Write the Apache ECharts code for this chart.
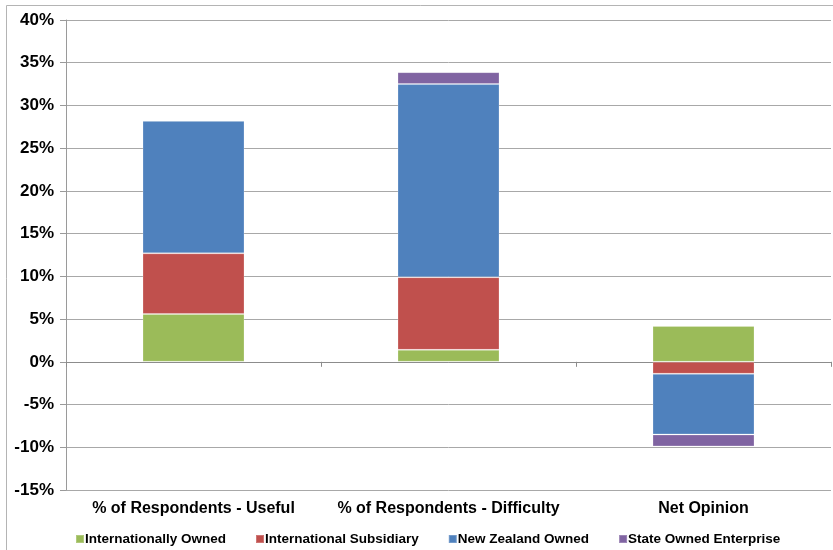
<!DOCTYPE html>
<html>
<head>
<meta charset="utf-8">
<script src="https://cdn.jsdelivr.net/npm/echarts@6/dist/echarts.min.js"></script>
<style>
  html, body { margin: 0; padding: 0; background: #fff; }
  #chart { width: 833px; height: 550px; }
</style>
</head>
<body>
<div id="chart"></div>
<script>
// Categories and stacked percentages per ownership type
const categories = ['% of Respondents - Useful', '% of Respondents - Difficulty', 'Net Opinion'];
const internationallyOwned = [5.6, 1.4, 4.2];
const internationalSubsidiary = [7.1, 8.5, -1.4];
const newZealandOwned = [15.5, 22.6, -7.1];
const stateOwnedEnterprise = [0, 1.4, -1.4];
const seriesNames = ['Internationally Owned', 'International Subsidiary', 'New Zealand Owned', 'State Owned Enterprise'];
const yTicks = { min: -15, max: 40, interval: 5 };

const colors = ['#9BBB59', '#C0504D', '#4F81BD', '#8064A2'];
const font = '"Liberation Sans", Arial, sans-serif';

const chart = echarts.init(document.getElementById('chart'), null, { renderer: 'canvas' });

const values = [internationallyOwned, internationalSubsidiary, newZealandOwned, stateOwnedEnterprise];

chart.setOption({
  animation: false,
  backgroundColor: '#ffffff',
  color: colors,
  graphic: [{
    type: 'rect',
    shape: { x: 6.5, y: 5.5, width: 900, height: 700 },
    style: { fill: 'none', stroke: '#b4b4b4', lineWidth: 1 },
    silent: true,
    z: -1
  }],
  grid: { left: 66, right: 2, top: 20, bottom: 60 },
  legend: {
    data: seriesNames,
    left: 70,
    top: 527,
    itemWidth: 8,
    itemHeight: 8,
    itemGap: 29,
    icon: 'rect',
    textStyle: { fontFamily: font, fontWeight: 'bold', fontSize: 13.5, color: '#000', padding: [0, 0, 0, -4] }
  },
  xAxis: [{
    type: 'category',
    data: categories,
    position: 'bottom',
    axisLine: { show: false, onZero: false },
    axisTick: { show: false },
    axisLabel: { interval: 0, fontFamily: font, fontWeight: 'bold', fontSize: 16, color: '#000', margin: 11 }
  }, {
    type: 'category',
    data: categories,
    position: 'top',
    axisLine: { show: true, onZero: true, lineStyle: { color: '#8c8c8c', width: 1 } },
    axisTick: { show: true, inside: true, length: 5, lineStyle: { color: '#8c8c8c' } },
    axisLabel: { show: false }
  }],
  yAxis: {
    type: 'value',
    min: yTicks.min,
    max: yTicks.max,
    interval: yTicks.interval,
    axisLine: { show: true, lineStyle: { color: '#9a9a9a' } },
    axisTick: { show: true, length: 6, lineStyle: { color: '#9a9a9a' } },
    splitLine: { show: true, lineStyle: { color: '#a8a8a8', width: 1 } },
    axisLabel: {
      formatter: '{value}%',
      fontFamily: font, fontWeight: 'bold', fontSize: 17, color: '#000', margin: 12
    }
  },
  series: seriesNames.map((name, i) => ({
    name,
    type: 'bar',
    stack: 'total',
    xAxisIndex: 0,
    barWidth: '40%',
    itemStyle: { color: colors[i], borderColor: 'rgba(255,255,255,0.22)', borderWidth: 1 },
    data: values[i]
  }))
});
</script>
</body>
</html>
